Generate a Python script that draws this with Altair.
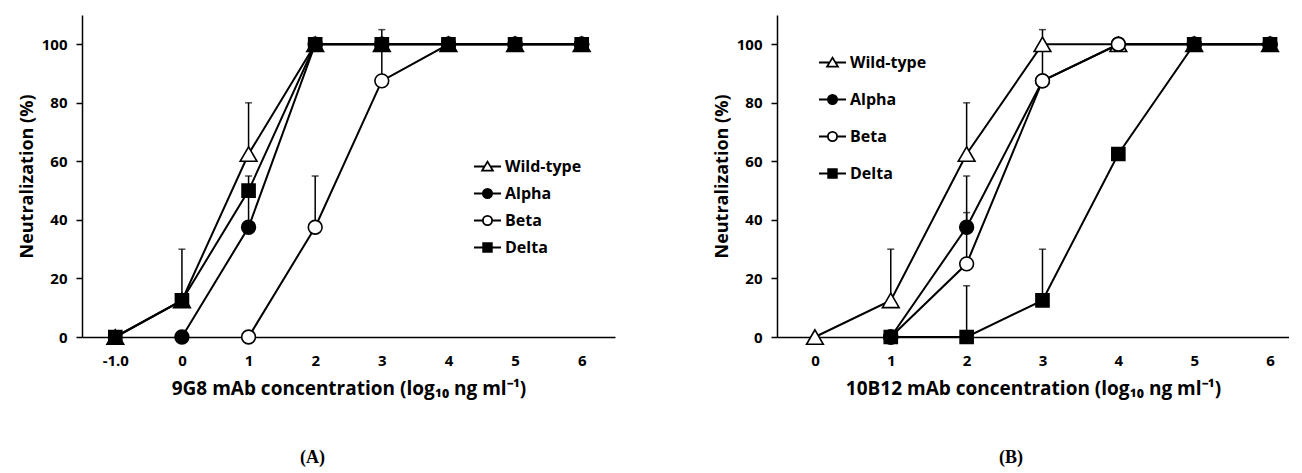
import altair as alt
import pandas as pd

series = ["Wild-type", "Alpha", "Beta", "Delta"]
marker_shapes = ["triangle-up", "circle", "circle", "square"]
marker_fills = ["white", "black", "white", "black"]
marker_sizes = [280, 190, 190, 170]

# Panel A: 9G8 mAb
conc_a = [-1, 0, 1, 2, 3, 4, 5, 6]
wt_a = [0, 12.5, 62.5, 100, 100, 100, 100, 100]
alpha_a = [None, 0, 37.5, 100, 100, 100, 100, 100]
beta_a = [None, None, 0, 37.5, 87.5, 100, 100, 100]
delta_a = [0, 12.5, 50, 100, 100, 100, 100, 100]
err_a_series = ["Wild-type", "Wild-type", "Alpha", "Beta", "Beta"]
err_a_x = [0, 1, 1, 2, 3]
err_a_lo = [12.5, 62.5, 37.5, 37.5, 87.5]
err_a_hi = [30, 80, 55, 55, 105]

# Panel B: 10B12 mAb
conc_b = [0, 1, 2, 3, 4, 5, 6]
wt_b = [0, 12.5, 62.5, 100, 100, 100, 100]
alpha_b = [None, 0, 37.5, 87.5, 100, 100, 100]
beta_b = [None, 0, 25, 87.5, 100, 100, 100]
delta_b = [None, 0, 0, 12.5, 62.5, 100, 100]
err_b_series = ["Wild-type", "Wild-type", "Alpha", "Beta", "Delta", "Wild-type", "Beta", "Delta"]
err_b_x = [1, 2, 2, 2, 2, 3, 3, 3]
err_b_lo = [12.5, 62.5, 37.5, 25, 0, 100, 87.5, 12.5]
err_b_hi = [30, 80, 55, 42.5, 17.5, 105, 100, 30]

y_ticks = [0, 20, 40, 60, 80, 100]
FONT = "Open Sans"

# legend symbols: a short line with the marker in the middle
legend_paths = [
    "M-1,0H-0.2M0.2,0H1M0,-0.36L0.4,0.3L-0.4,0.3Z",
    "M-1,0H-0.34M0.34,0H1M0.34,0A0.34,0.34,0,1,1,-0.34,0A0.34,0.34,0,1,1,0.34,0Z",
    "M-1,0H-0.34M0.34,0H1M0.34,0A0.34,0.34,0,1,1,-0.34,0A0.34,0.34,0,1,1,0.34,0Z",
    "M-1,0H-0.32M0.32,0H1M-0.32,-0.32H0.32V0.32H-0.32Z",
]


def long_df(conc, cols):
    rows = []
    for s, vals in zip(series, cols):
        for x, v in zip(conc, vals):
            if v is not None:
                rows.append({"series": s, "conc": x, "value": v})
    return pd.DataFrame(rows)


def err_df(ss, xs, lo, hi):
    return pd.DataFrame({"series": ss, "conc": xs, "lo": lo, "hi": hi})


def panel(df, edf, xdomain, xvals, xtitle, width, legx, legy, rowpad, label, dx):
    x_axis = alt.Axis(
        values=xvals, grid=False, ticks=False, title=xtitle, format="d",
        labelPadding=16, titlePadding=11, titleFontSize=19,
        labelExpr="datum.value == -1 ? '-1.0' : datum.label",
    )
    y_axis = alt.Axis(values=y_ticks, grid=False, title="Neutralization (%)",
                      tickSize=6, labelPadding=9, titlePadding=5, titleFontSize=18)
    xs = alt.Scale(domain=xdomain, nice=False, zero=False)
    ys = alt.Scale(domain=[0, 110], nice=False)
    legend = alt.Legend(
        title=None, orient="none", legendX=legx, legendY=legy, padding=0,
        symbolSize=729, rowPadding=rowpad, labelOffset=3,
        symbolStrokeColor="black", symbolStrokeWidth=1.8,
        labelFont=FONT, labelFontSize=16, labelFontWeight="bold", labelColor="black",
    )
    rules = alt.Chart(edf).mark_rule(color="black", strokeWidth=1.5).encode(
        x=alt.X("conc:Q", scale=xs, axis=x_axis),
        y=alt.Y("lo:Q", scale=ys, axis=y_axis),
        y2="hi:Q",
    )
    caps = alt.Chart(edf).mark_tick(color="black", orient="horizontal", size=7, thickness=1.5).encode(
        x=alt.X("conc:Q", scale=xs),
        y=alt.Y("hi:Q", scale=ys),
    )
    lines = alt.Chart(df).mark_line(color="black", strokeWidth=2).encode(
        x=alt.X("conc:Q", scale=xs),
        y=alt.Y("value:Q", scale=ys),
        detail="series:N",
    )
    layers = [rules, caps, lines]
    for s, shp, fl, sz in zip(series, marker_shapes, marker_fills, marker_sizes):
        layers.append(
            alt.Chart(df).transform_filter(alt.datum.series == s).mark_point(
                shape=shp, fill=fl, filled=True, stroke="black", strokeWidth=1.6, size=sz, opacity=1
            ).encode(x=alt.X("conc:Q", scale=xs), y=alt.Y("value:Q", scale=ys))
        )
    # legend-only layer (no rows drawn)
    legend_layer = alt.Chart(df).transform_filter("datum.conc > 1000").mark_point(
        filled=True, strokeWidth=1.8, opacity=1
    ).encode(
        x=alt.X("conc:Q", scale=xs),
        y=alt.Y("value:Q", scale=ys),
        shape=alt.Shape("series:N", scale=alt.Scale(domain=series, range=legend_paths), legend=legend),
        fill=alt.Fill("series:N", scale=alt.Scale(domain=series, range=marker_fills), legend=legend),
        stroke=alt.Stroke("series:N", scale=alt.Scale(domain=series, range=["black"] * 4), legend=legend),
    )
    layers.append(legend_layer)
    return alt.layer(*layers).properties(
        width=width, height=322,
        title=alt.TitleParams(label, orient="bottom", font="Liberation Serif", fontSize=18,
                              fontWeight="bold", color="black", offset=51, dx=dx),
    )


df_a = long_df(conc_a, [wt_a, alpha_a, beta_a, delta_a])
df_b = long_df(conc_b, [wt_b, alpha_b, beta_b, delta_b])

chart_a = panel(df_a, err_df(err_a_series, err_a_x, err_a_lo, err_a_hi), [-1.5, 6.5], conc_a,
                "9G8 mAb concentration (log\u2081\u2080 ng ml\u207b\u00b9)", 533,
                391, 137, 4, "(A)", -36)
chart_b = panel(df_b, err_df(err_b_series, err_b_x, err_b_lo, err_b_hi), [-0.5, 6.25], conc_b,
                "10B12 mAb concentration (log\u2081\u2080 ng ml\u207b\u00b9)", 512,
                41, 33, 14, "(B)", -22)

chart = alt.hconcat(chart_a, chart_b, spacing=162, bounds="flush").resolve_scale(
    shape="independent", fill="independent", stroke="independent", x="independent", y="independent"
).resolve_legend(shape="independent", fill="independent", stroke="independent").properties(
    padding={"left": 10, "top": 7, "right": 0, "bottom": 0}
).configure_view(stroke=None).configure_axis(
    labelFont=FONT, labelFontSize=15, labelFontWeight="bold", labelColor="black",
    titleFont=FONT, titleFontSize=17, titleFontWeight="bold", titleColor="black",
    domainColor="black", domainWidth=1.5, tickColor="black", tickWidth=1.5,
)

chart.save("out.html", embed_options={"renderer": "svg", "actions": False})
